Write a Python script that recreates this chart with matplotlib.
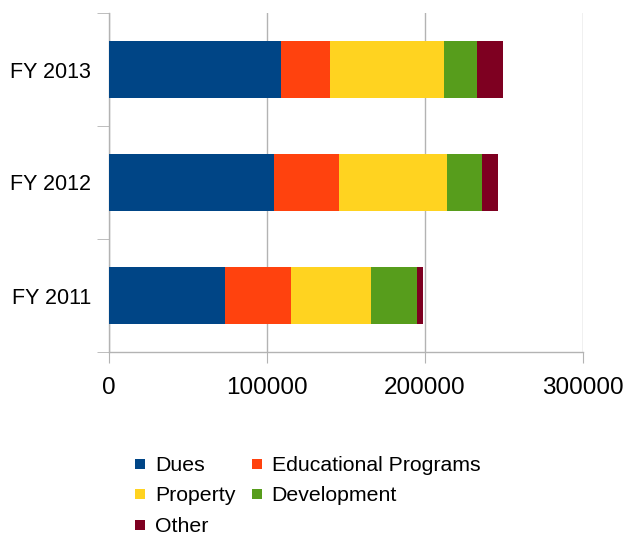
import matplotlib
matplotlib.use("Agg")
from matplotlib import pyplot as plt
from matplotlib.lines import Line2D
import numpy as np

plt.rcParams["font.family"] = ["Liberation Sans", "DejaVu Sans"]

years = ["FY 2011", "FY 2012", "FY 2013"]
dues = [73400, 104400, 108900]
educational = [41800, 41100, 31000]
property_ = [50600, 68400, 72200]
development = [29100, 22100, 20900]
other = [3800, 10100, 16400]

series = [
    ("Dues", dues, "#004586"),
    ("Educational Programs", educational, "#ff420e"),
    ("Property", property_, "#ffd320"),
    ("Development", development, "#579d1c"),
    ("Other", other, "#7e0021"),
]

fig = plt.figure(figsize = (6.29, 5.35), dpi = 100)
ax = fig.add_axes([109 / 629, 183 / 535, 474 / 629, 339 / 535])

y = np.arange(len(years))
left = np.zeros(len(years))
colors = {}
for name, vals, color in series:
    ax.barh(y, vals, left = left, height = 0.5, color = color, label = name, zorder = 3)
    left = left + np.array(vals)
    colors[name] = color

ax.set_xlim(0, 300000)
ax.set_ylim(-0.5, len(years) - 0.5)
ax.set_xticks([0, 100000, 200000, 300000])
ax.set_xticklabels(["0", "100000", "200000", "300000"], fontsize = 17.5)
ax.set_yticks(y)
ax.set_yticklabels(years, fontsize = 15.5)
ax.set_yticks(np.arange(len(years) + 1) - 0.5, minor = True)

ax.grid(axis = "x", color = "#b3b3b3", linewidth = 1, zorder = 0)
for side in ["top", "right"]:
    ax.spines[side].set_visible(False)
for side in ["left", "bottom"]:
    ax.spines[side].set_color("#b3b3b3")
    ax.spines[side].set_linewidth(1)

ax.tick_params(axis = "x", which = "major", length = 8, color = "#b3b3b3", pad = 10)
ax.tick_params(axis = "y", which = "major", length = 0, pad = 13)
ax.tick_params(axis = "y", which = "minor", length = 9, color = "#b3b3b3")

# legend filled row by row like the original
order = ["Dues", "Property", "Other", "Educational Programs", "Development"]
handles = [Line2D([], [], linestyle = "none", marker = "s", markersize = 7.3,
                  markerfacecolor = colors[n], markeredgewidth = 0) for n in order]
fig.legend(handles, order, loc = "upper left",
           bbox_to_anchor = (135 / 629, 1 - 456 / 535), ncol = 2, frameon = False,
           fontsize = 15.3, handlelength = 0.5, handleheight = 0.5,
           handletextpad = 0.45, columnspacing = 0.75, labelspacing = 0.53,
           borderpad = 0, borderaxespad = 0)

fig.savefig("out.png", dpi = 100)
